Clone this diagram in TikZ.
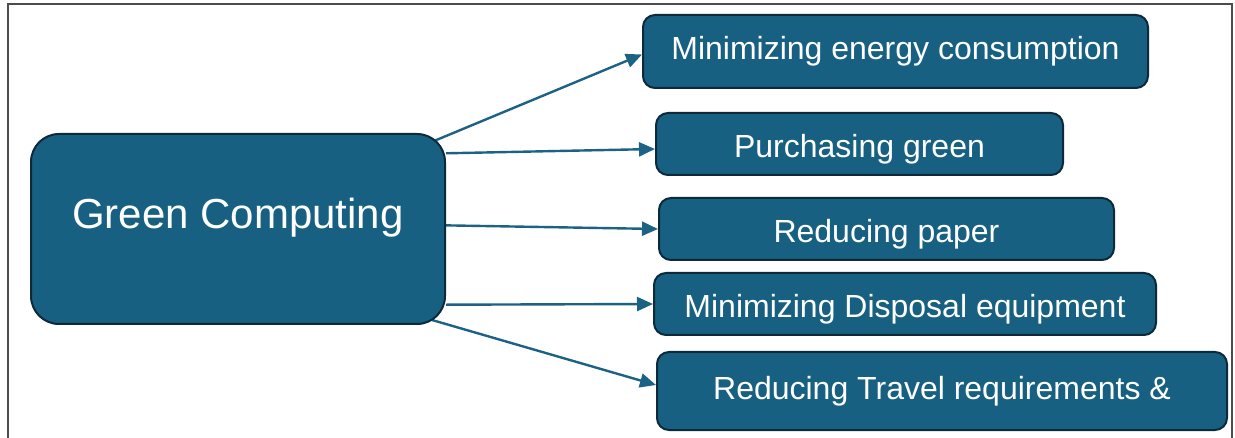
\documentclass[tikz,border=0pt]{standalone}
\usepackage{fontspec}
\setmainfont{Liberation Sans}
\usetikzlibrary{arrows.meta,backgrounds,calc}
\definecolor{gcblue}{RGB}{23,96,130}
\definecolor{gcedge}{RGB}{12,42,58}
\definecolor{gcline}{RGB}{28,98,132}

\begin{document}
\begin{tikzpicture}[x=1pt, y=-1pt,
        box/.style={draw=gcedge, line width=2pt, fill=gcblue, rounded corners=12pt, text=white, inner sep=0pt, font=\fontsize{32}{38}\selectfont},
        low/.style={text height=34pt, text depth=7pt},
        link/.style={gcline, line width=2.4pt, -{Triangle[length=16pt, width=14pt]}}]
        \useasboundingbox (0,0) rectangle (1235,438);

        % Outer frame
        \draw[black!70, line width=1.2pt] (8,445) -- (8,4) -- (1232,4) -- (1232,445);

        % Main topic
        \node[box, rounded corners=28pt, minimum width=414pt, minimum height=190pt, text height=31pt, text depth=31pt, font=\fontsize{42}{50}\selectfont] (gc) at (238,229) {Green Computing};

        % Practices
        \node[box, minimum width=505pt, minimum height=73pt] (energy) at (895.5,51.5) {Minimizing energy consumption};
        \node[box, low, minimum width=407pt, minimum height=62pt] (purchase) at (859.5,144) {Purchasing green};
        \node[box, low, minimum width=455pt, minimum height=62pt] (paper) at (886.5,229) {Reducing paper};
        \node[box, low, minimum width=502pt, minimum height=62pt] (disposal) at (905,304) {Minimizing Disposal equipment};
        \node[box, minimum width=570pt, minimum height=78pt] (travel) at (942,391) {Reducing Travel requirements \&};

        % Arrows
        \begin{scope}[on background layer]
        \draw[link] ($(gc.north east)+(-12,8)$) -- ($(energy.west)+(0,3)$);
        \draw[link] (gc.20) -- ($(purchase.west)+(0,5)$);
        \draw[link] (gc.1) -- (paper.west);
        \draw[link] (gc.-20) -- (disposal.west);
        \draw[link] ($(gc.south east)+(-14,-5)$) -- ($(travel.west)+(0,-6)$);
        \end{scope}
\end{tikzpicture}
\end{document}
